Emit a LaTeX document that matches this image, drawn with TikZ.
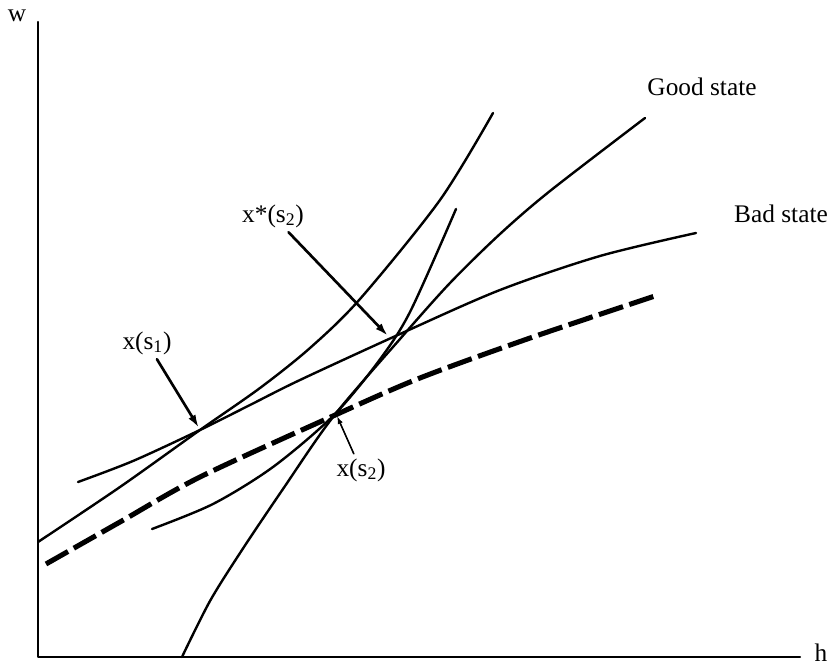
\documentclass[tikz,border=0pt]{standalone}
\usepackage{fontspec}
\setmainfont{Liberation Serif}
\usetikzlibrary{arrows.meta}
\tikzset{
  every picture/.style={line join=round, line cap=round, >=Stealth},
  curve/.style={line width=1.8pt},
  budget/.style={line width=3.8pt, line cap=butt, dash pattern=on 19pt off 5pt},
  pointer/.style={line width=2pt, -{Latex[length=10pt,width=6pt]}},
  smallpointer/.style={line width=1.2pt, -{Latex[length=6pt,width=4pt]}},
}

\begin{document}
\begin{tikzpicture}[x=0.75pt,y=0.75pt,font=\fontsize{19}{22}\selectfont]
\useasboundingbox (0,0) rectangle (834,667);
% axes
\coordinate (O) at (38,10);
\coordinate (wtop) at (38,645);
\coordinate (hend) at (800,10);
\draw[curve] (wtop) -- (O) -- (hend);
\node (w) at (17,651) {w};
\node[anchor=base, inner sep=0pt] (h) at (821,6) {h};
% good state curve
\draw[curve] plot[smooth] coordinates {(182,10) (210,66) (242,117) (283,178) (333,250) (400,328) (450,384) (500,433) (550,476) (645,549)};
% bad state curve
\draw[curve] plot[smooth] coordinates {(78,185) (133,206) (200,237) (250,262) (300,287) (400,333) (500,377) (600,411) (696,434)};
% indifference curves
\draw[curve] plot[smooth] coordinates {(38,125) (120,180) (200,237) (260,279) (310,319) (360,368) (440,467) (493,554)};
\draw[curve] plot[smooth] coordinates {(152,138) (213,163) (273,200) (333,251) (378,305) (410,355) (456,458)};
% dashed
\draw[budget] plot[smooth] coordinates {(46,103) (120,145) (200,190) (333,251) (420,289) (533,330) (655,371)};
% labels
\node (goodlab) at (702,580) {Good state};
\node (badlab) at (781,453) {Bad state};
\node (xstarlab) at (273,451) {x*(s\textsubscript{2})};
\node (xonelab) at (147,324) {x(s\textsubscript{1})};
\node (xtwolab) at (361,197) {x(s\textsubscript{2})};
\coordinate (xstar) at (388,331);
\coordinate (xone) at (199,239);
\coordinate (xtwo) at (337,251);
\draw[pointer] (xstarlab) -- (xstar);
\draw[pointer] (xonelab) -- (xone);
\draw[smallpointer] (xtwolab) -- (xtwo);
\end{tikzpicture}
\end{document}
